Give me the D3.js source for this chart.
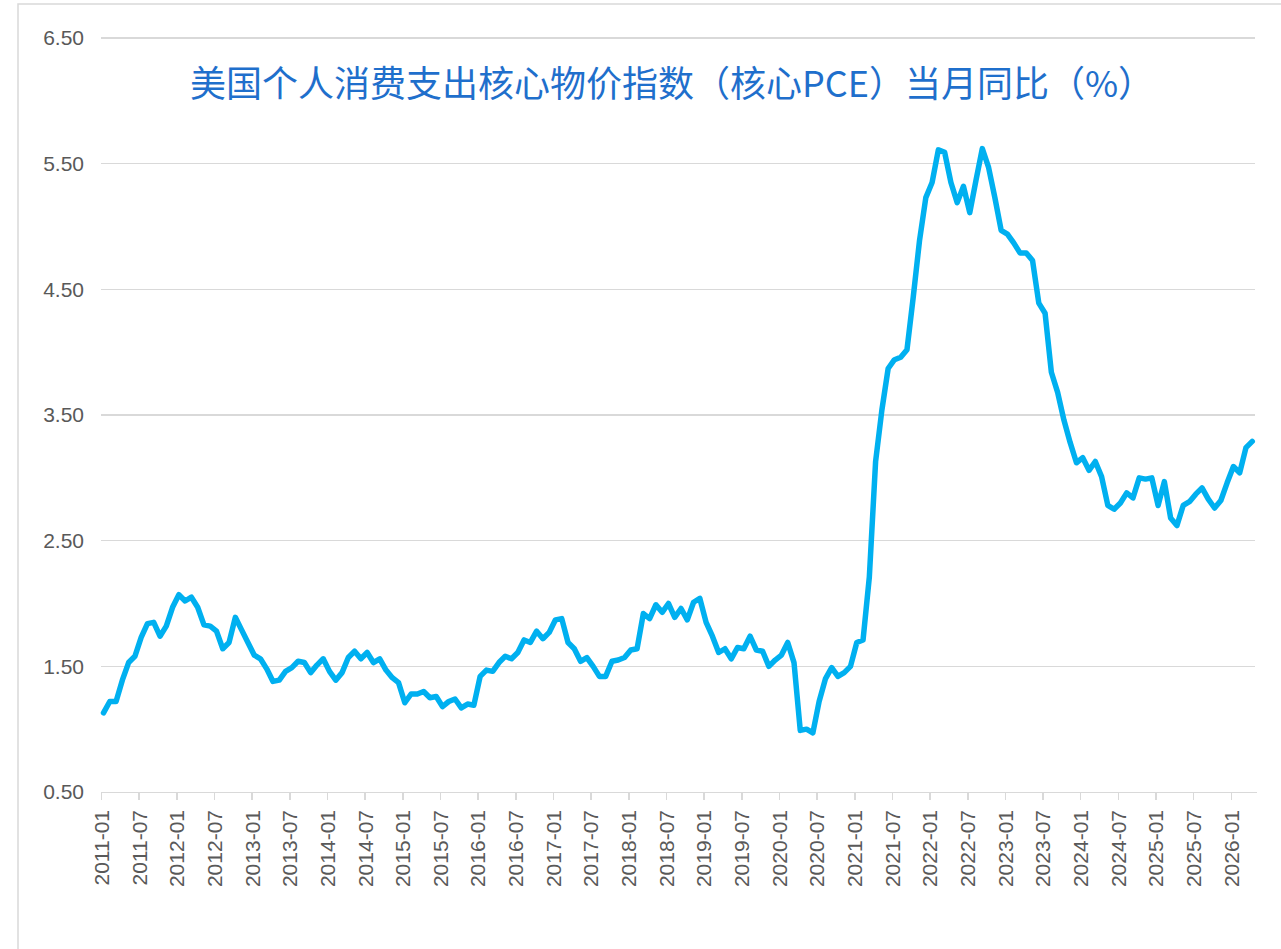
<!DOCTYPE html>
<html>
<head>
    <meta charset="utf-8">
    <script src="https://cdn.jsdelivr.net/npm/d3@7/dist/d3.min.js"></script>

    <style type="text/css">
        body {
            margin: 0;
            background-color: white; }

        .frame {
            fill: none;
            stroke: #d9d9d9;
            stroke-width: 1.5px; }

        .grid line {
            stroke: #d9d9d9;
            stroke-width: 1.5px;
            shape-rendering: crispEdges; }

        .axis path,
        .axis line {
            fill: none;
            stroke: #d9d9d9;
            stroke-width: 1.5px;
            shape-rendering: crispEdges; }

        .axis text {
            font-family: "Liberation Sans", Arial, sans-serif;
            font-size: 21px;
            fill: #595959; }

        .line {
            fill: none;
            stroke: #00b0f0;
            stroke-width: 5.5px;
            stroke-linejoin: round;
            stroke-linecap: round; }

        text.title {
            font-family: "Noto Sans CJK SC", sans-serif;
            font-size: 36px;
            fill: #1f6fcc;
            text-anchor: middle; }
    </style>
</head>

<body>
    <div id="chart"></div>

    <script type="text/javascript">
        // core PCE, year-on-year, monthly from 2011-01
        var startMonth = "2011-01";

        var values = [
            1.13, 1.22, 1.22, 1.39, 1.53, 1.58, 1.73, 1.84, 1.85, 1.74, 1.82, 1.97,   // 2011
            2.07, 2.02, 2.05, 1.97, 1.83, 1.82, 1.78, 1.64, 1.69, 1.89, 1.79, 1.69,   // 2012
            1.59, 1.56, 1.48, 1.38, 1.39, 1.46, 1.49, 1.54, 1.53, 1.45, 1.51, 1.56,   // 2013
            1.46, 1.39, 1.45, 1.57, 1.62, 1.56, 1.61, 1.53, 1.56, 1.47, 1.41, 1.37,   // 2014
            1.21, 1.28, 1.28, 1.30, 1.25, 1.26, 1.18, 1.22, 1.24, 1.17, 1.20, 1.19,   // 2015
            1.42, 1.47, 1.46, 1.53, 1.58, 1.56, 1.61, 1.71, 1.69, 1.78, 1.72, 1.77,   // 2016
            1.87, 1.88, 1.69, 1.64, 1.54, 1.57, 1.50, 1.42, 1.42, 1.54, 1.55, 1.57,   // 2017
            1.63, 1.64, 1.92, 1.88, 1.99, 1.93, 2.00, 1.89, 1.96, 1.87, 2.01, 2.04,   // 2018
            1.85, 1.74, 1.61, 1.64, 1.56, 1.65, 1.64, 1.74, 1.63, 1.62, 1.50, 1.55,   // 2019
            1.59, 1.69, 1.53, 0.99, 1.00, 0.97, 1.22, 1.40, 1.49, 1.42, 1.45, 1.50,   // 2020
            1.69, 1.71, 2.21, 3.13, 3.54, 3.87, 3.94, 3.96, 4.02, 4.44, 4.89, 5.23,   // 2021
            5.35, 5.61, 5.59, 5.35, 5.19, 5.32, 5.11, 5.37, 5.62, 5.47, 5.23, 4.97,   // 2022
            4.94, 4.87, 4.79, 4.79, 4.73, 4.39, 4.31, 3.84, 3.68, 3.46, 3.28, 3.12,   // 2023
            3.16, 3.06, 3.13, 3.01, 2.78, 2.75, 2.80, 2.88, 2.84, 3.00, 2.99, 3.00,   // 2024
            2.78, 2.97, 2.68, 2.62, 2.78, 2.81, 2.87, 2.92, 2.83, 2.76, 2.82, 2.96,   // 2025
            3.09, 3.04, 3.24, 3.29                                                    // 2026
        ];

        var tickLabels = [
            "2011-01", "2011-07", "2012-01", "2012-07", "2013-01", "2013-07",
            "2014-01", "2014-07", "2015-01", "2015-07", "2016-01", "2016-07",
            "2017-01", "2017-07", "2018-01", "2018-07", "2019-01", "2019-07",
            "2020-01", "2020-07", "2021-01", "2021-07", "2022-01", "2022-07",
            "2023-01", "2023-07", "2024-01", "2024-07", "2025-01", "2025-07",
            "2026-01"
        ];

        var yTicks = [0.5, 1.5, 2.5, 3.5, 4.5, 5.5, 6.5];

        var title = "美国个人消费支出核心物价指数（核心PCE）当月同比（%）";

        var width = 1281;
        var height = 949;
        var plot = { left: 101, right: 1256, top: 38, bottom: 792 };

        // month labels for each value
        var parseMonth = d3.timeParse("%Y-%m");
        var fmtMonth = d3.timeFormat("%Y-%m");
        var start = parseMonth(startMonth);
        var months = values.map(function (d, i) { return fmtMonth(d3.timeMonth.offset(start, i)); });

        var svg = d3.select("#chart").append("svg")
            .attr("width", width)
            .attr("height", height);

        svg.append("rect")
            .attr("class", "frame")
            .attr("x", 18)
            .attr("y", 4)
            .attr("width", 1320)
            .attr("height", 980);

        var x = d3.scaleLinear()
            .domain([0, months.length])
            .range([plot.left, plot.right]);

        var y = d3.scaleLinear()
            .domain([yTicks[0], yTicks[yTicks.length - 1]])
            .range([plot.bottom, plot.top]);

        // gridlines
        svg.append("g")
            .attr("class", "grid")
            .selectAll("line")
            .data(yTicks.slice(1))
            .enter().append("line")
            .attr("x1", plot.left)
            .attr("x2", plot.right - 1)
            .attr("y1", function (d) { return y(d); })
            .attr("y2", function (d) { return y(d); });

        // y axis labels
        var yAxis = d3.axisLeft(y)
            .tickValues(yTicks)
            .tickSize(0)
            .tickPadding(17)
            .tickFormat(d3.format(".2f"));

        svg.append("g")
            .attr("class", "axis")
            .attr("transform", "translate(" + plot.left + ",0)")
            .call(yAxis)
            .call(function (g) { g.select(".domain").remove(); });

        // x axis
        var xAxis = d3.axisBottom(x)
            .tickValues(tickLabels.map(function (d) { return months.indexOf(d); }))
            .tickSize(8)
            .tickSizeOuter(0)
            .tickFormat(function (i) { return months[i]; });

        svg.append("g")
            .attr("class", "axis")
            .attr("transform", "translate(0," + plot.bottom + ")")
            .call(xAxis)
            .selectAll("text")
            .attr("transform", "rotate(-90)")
            .attr("x", -18)
            .attr("y", 0)
            .attr("dy", "0.35em")
            .style("text-anchor", "end");

        // series (points sit a little right of the month tick, as in the source)
        var line = d3.line()
            .x(function (d, i) { return x(i + 0.4); })
            .y(function (d) { return y(d); });

        svg.append("path")
            .datum(values)
            .attr("class", "line")
            .attr("d", line);

        svg.append("text")
            .attr("class", "title")
            .attr("x", 672)
            .attr("y", 97)
            .text(title);
    </script>

</body>

</html>
